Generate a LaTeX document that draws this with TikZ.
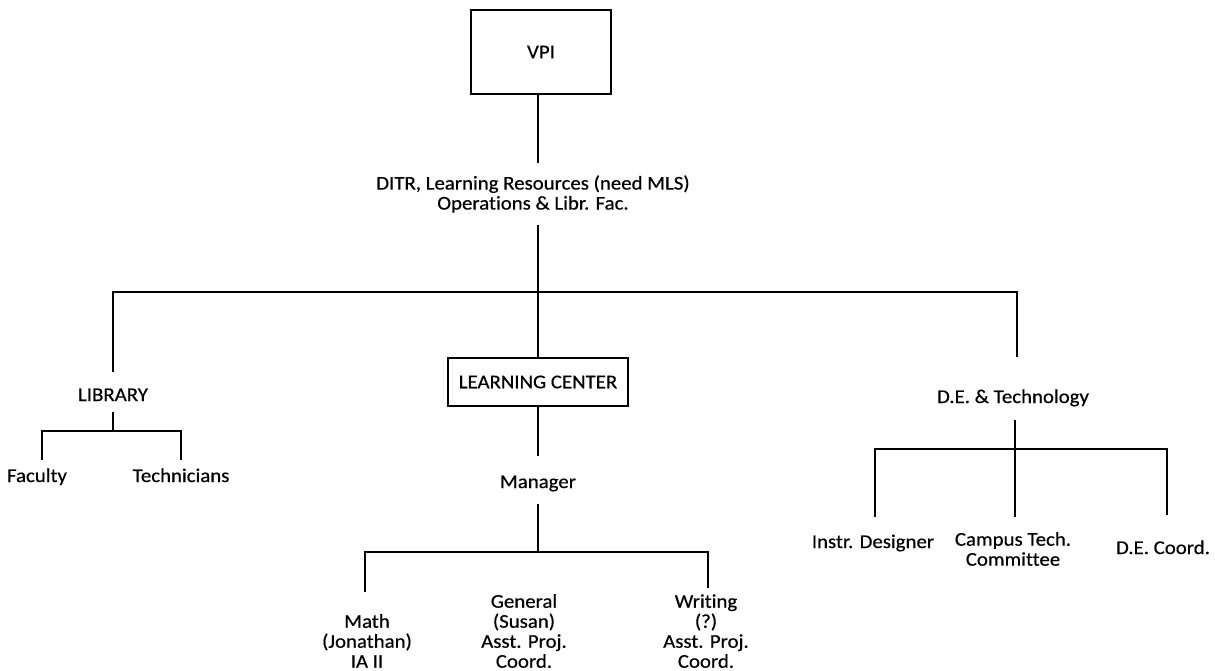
\documentclass[tikz,border=0pt]{standalone}
\usepackage{fontspec}
\setmainfont{Carlito}[FakeStretch=1.07, FakeBold=0.5, Ligatures={NoCommon}]
\begin{document}
\begin{tikzpicture}[x=0.75pt,y=-0.75pt,
  every node/.style={font=\fontsize{14.6}{15}\selectfont},
  lbl/.style={align=center, inner sep=0pt},
  one/.style={inner sep=0pt, anchor=base},
  boxed/.style={draw, line width=0.8pt, align=center, inner sep=0pt},
  ln/.style={line width=0.8pt}]
\useasboundingbox (0,0) rectangle (1215,671);

% nodes
\node[boxed, minimum width=105pt, minimum height=63pt] (vpi) at (541,52) {VPI};
\node[lbl] (ditr) at (533,194) {DITR, Learning Resources (need MLS)\\Operations \& Libr. Fac.};
\node[one] (lib) at (113,401) {LIBRARY};
\node[boxed, minimum width=135pt, minimum height=36pt] (lc) at (538,382) {LEARNING CENTER};
\node[one] (de) at (1013,403) {D.E. \& Technology};
\node[one] (fac) at (37,482) {Faculty};
\node[one] (tech) at (181,482) {Technicians};
\node[one] (mgr) at (538,488) {Manager};
\node[lbl, anchor=south] (math) at (367,674) {Math\\(Jonathan)\\IA II\strut};
\node[lbl, anchor=south] (gen) at (524,674) {General\\(Susan)\\Asst. Proj.\\Coord.\strut};
\node[lbl, anchor=south] (writ) at (706,674) {Writing\\(?)\\Asst. Proj.\\Coord.\strut};
\node[one] (instr) at (873,548) {Instr. Designer};
\node[lbl] (ctc) at (1013,549) {Campus Tech.\\Committee};
\node[one] (dec) at (1163,554) {D.E. Coord.};

% connector coordinates
\coordinate (s1) at (538,163);
\coordinate (s2) at (538,225);
\coordinate (busL) at (113,292);
\coordinate (busM) at (538,292);
\coordinate (busR) at (1017,292);
\coordinate (libIn) at (113,372);
\coordinate (deIn) at (1017,357);
\coordinate (libOut) at (113,412);
\coordinate (libB) at (113,431);
\coordinate (libBL) at (42,431);
\coordinate (libBR) at (181,431);
\coordinate (facIn) at (42,460);
\coordinate (techIn) at (181,460);
\coordinate (mgrIn) at (538,456);
\coordinate (mgrOut) at (538,504);
\coordinate (lcB) at (538,552);
\coordinate (lcBL) at (365,552);
\coordinate (lcBR) at (708,552);
\coordinate (mathIn) at (365,592);
\coordinate (writIn) at (708,588);
\coordinate (deOut) at (1015,420);
\coordinate (deB) at (1015,449);
\coordinate (deBL) at (875,449);
\coordinate (deBR) at (1167,449);
\coordinate (instrIn) at (875,517);
\coordinate (ctcIn) at (1015,517);
\coordinate (decIn) at (1167,515);

% connectors
\draw[ln] (vpi.south -| s1) -- (s1);
\draw[ln] (s2) -- (busM);
\draw[ln] (libIn) -- (busL) -- (busR) -- (deIn);
\draw[ln] (busM) -- (lc.north);
\draw[ln] (libOut) -- (libB);
\draw[ln] (facIn) -- (libBL) -- (libBR) -- (techIn);
\draw[ln] (lc.south -| mgrIn) -- (mgrIn);
\draw[ln] (mgrOut) -- (lcB);
\draw[ln] (mathIn) -- (lcBL) -- (lcBR) -- (writIn);
\draw[ln] (deOut) -- (deB);
\draw[ln] (instrIn) -- (deBL) -- (deBR) -- (decIn);
\draw[ln] (deB) -- (ctcIn);
\end{tikzpicture}
\end{document}
